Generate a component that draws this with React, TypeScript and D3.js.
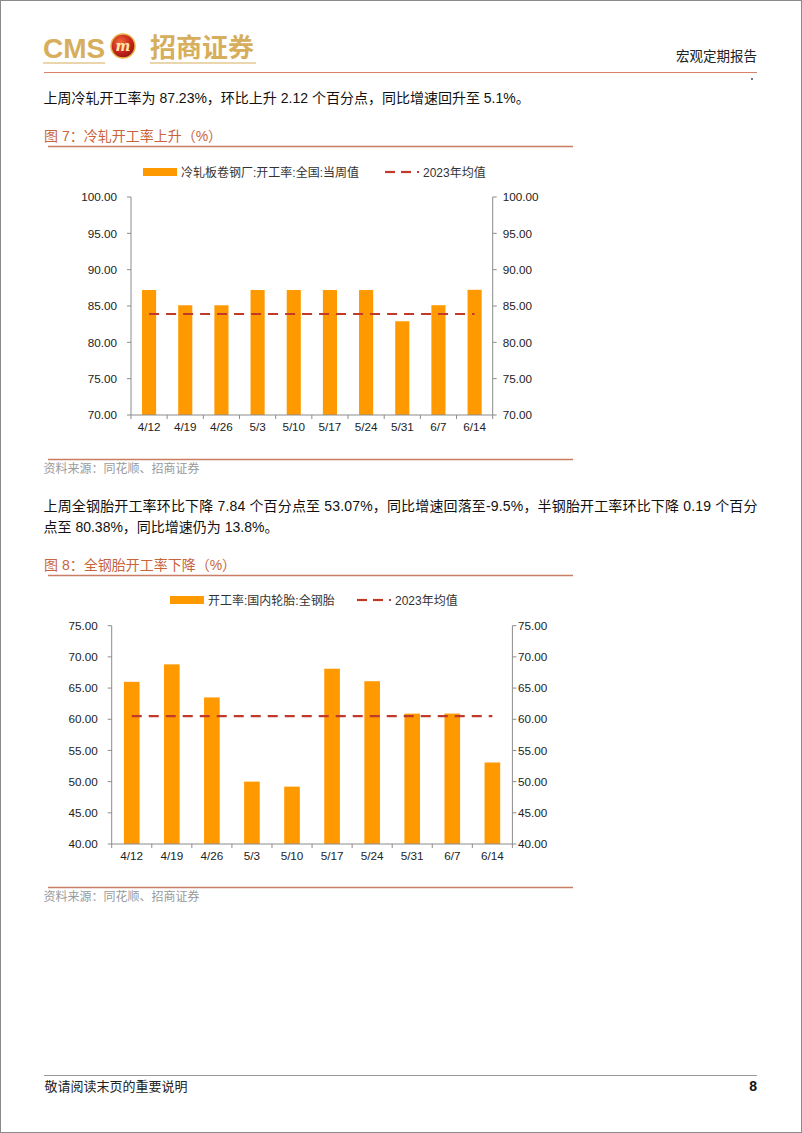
import React from 'react';
import * as d3 from 'd3';

const categories = ['4/12', '4/19', '4/26', '5/3', '5/10', '5/17', '5/24', '5/31', '6/7', '6/14'];
const coldRolledValues = [87.2, 85.1, 85.1, 87.2, 87.2, 87.2, 87.2, 82.9, 85.11, 87.23];
const coldRolledMean = 83.9;
const coldTicks = [70, 75, 80, 85, 90, 95, 100];
const tireValues = [66.0, 68.8, 63.5, 50.0, 49.2, 68.1, 66.1, 60.9, 60.91, 53.07];
const tireMean = 60.5;
const tireTicks = [40, 45, 50, 55, 60, 65, 70, 75];

const FONT = "'Liberation Sans', Arial, 'Noto Sans CJK SC', sans-serif";
const BAR = '#FF9900';
const MEAN = '#C0392B';
const AXIS = '#8c8c8c';

type ChartProps = {
  values: number[];
  mean: number;
  ticks: number[];
  left: number;
  right: number;
  top: number;
  bottom: number;
  legendY: number;
  seriesName: string;
  swatchX: number;
  dashX: number;
  rightGap: number;
};

function BarChart(p: ChartProps) {
  const x = d3.scaleBand<string>().domain(categories).range([p.left, p.right]).paddingInner(0.61).paddingOuter(0.305);
  const band = d3.scaleBand<string>().domain(categories).range([p.left, p.right]);
  const y = d3.scaleLinear().domain([p.ticks[0], p.ticks[p.ticks.length - 1]]).range([p.bottom, p.top]);
  const centers = categories.map((c) => (band(c) as number) + band.bandwidth() / 2);
  const boundaries = d3.range(categories.length + 1).map((i) => p.left + i * band.bandwidth());
  const meanPath = d3.line<number>().x((d) => d).y(() => y(p.mean))([centers[0], centers[centers.length - 1]]) as string;
  const fs = 11.7;
  return (
    <g fontFamily={FONT}>
      {/* legend */}
      <rect x={p.swatchX} y={p.legendY - 4} width={34} height={8} fill={BAR} />
      <text x={p.swatchX + 38} y={p.legendY + 4.5} fontSize={12} fill="#333">{p.seriesName}</text>
      <line x1={p.dashX} x2={p.dashX + 10} y1={p.legendY} y2={p.legendY} stroke={MEAN} strokeWidth={2.2} />
      <line x1={p.dashX + 16} x2={p.dashX + 26} y1={p.legendY} y2={p.legendY} stroke={MEAN} strokeWidth={2.2} />
      <line x1={p.dashX + 32} x2={p.dashX + 34} y1={p.legendY} y2={p.legendY} stroke={MEAN} strokeWidth={2.2} />
      <text x={p.dashX + 38} y={p.legendY + 4.5} fontSize={12} fill="#333">2023年均值</text>
      {/* bars */}
      {p.values.map((v, i) => (
        <rect key={i} x={x(categories[i])} y={y(v)} width={x.bandwidth()} height={y(p.ticks[0]) - y(v)} fill={BAR} />
      ))}
      {/* mean line */}
      <path d={meanPath} stroke={MEAN} strokeWidth={2.2} strokeDasharray="10,7" fill="none" />
      {/* axes */}
      <line x1={p.left} x2={p.left} y1={p.top} y2={p.bottom} stroke={AXIS} />
      <line x1={p.right} x2={p.right} y1={p.top} y2={p.bottom} stroke={AXIS} />
      <line x1={p.left} x2={p.right} y1={p.bottom} y2={p.bottom} stroke={AXIS} />
      {p.ticks.map((t) => (
        <g key={t}>
          <line x1={p.left - 4} x2={p.left} y1={y(t)} y2={y(t)} stroke={AXIS} />
          <line x1={p.right} x2={p.right + 4} y1={y(t)} y2={y(t)} stroke={AXIS} />
          <text x={p.left - 14} y={y(t) + 4.2} textAnchor="end" fontSize={fs} fill="#222">{d3.format('.2f')(t)}</text>
          <text x={p.right + p.rightGap} y={y(t) + 4.2} textAnchor="start" fontSize={fs} fill="#222">{d3.format('.2f')(t)}</text>
        </g>
      ))}
      {boundaries.map((b, i) => (
        <line key={i} x1={b} x2={b} y1={p.bottom} y2={p.bottom + 4} stroke={AXIS} />
      ))}
      {categories.map((c, i) => (
        <text key={c} x={centers[i]} y={p.bottom + 16} textAnchor="middle" fontSize={fs} fill="#222">{c}</text>
      ))}
    </g>
  );
}

export default function App() {
  return (
    <svg width={802} height={1133} style={{ position: 'absolute', left: 0, top: 0, background: '#fff' }} fontFamily={FONT}>
      <rect x={0.5} y={0.5} width={801} height={1132} fill="#fff" stroke="#8a8a8a" />
      <defs>
        <radialGradient id="logoGrad" cx="40%" cy="35%" r="70%">
          <stop offset="0%" stopColor="#f26b3a" />
          <stop offset="60%" stopColor="#c8261c" />
          <stop offset="100%" stopColor="#8c1410" />
        </radialGradient>
      </defs>
      {/* header */}
      <text x={43} y={58} fontSize={28} fontWeight="bold" fill="#D6AE5C" fontFamily="'Liberation Sans', Arial, sans-serif">CMS</text>
      <circle cx={123} cy={46} r={12} fill="url(#logoGrad)" stroke="#e8b14a" strokeWidth={1.5} />
      <text x={123} y={51} fontSize={14} fontWeight="bold" fontStyle="italic" textAnchor="middle" fill="#ffe9a8" fontFamily="'DejaVu Serif', serif">m</text>
      <text x={150} y={57} fontSize={26} fontWeight="bold" fill="#D6AE5C" fontFamily="'Noto Sans CJK SC', sans-serif">招商证券</text>
      <line x1={43} x2={105} y1={63} y2={63} stroke="#D6AE5C" strokeWidth={1.2} />
      <line x1={150} x2={256} y1={63} y2={63} stroke="#D6AE5C" strokeWidth={1.2} />
      <text x={757} y={61} fontSize={13.5} textAnchor="end" fill="#222">宏观定期报告</text>
      <line x1={44} x2={757} y1={72.5} y2={72.5} stroke="#D9826B" strokeWidth={1.2} />
      <circle cx={752} cy={79} r={0.9} fill="#333" />

      <text x={43.5} y={103} fontSize={14} fill="#111">上周冷轧开工率为 87.23%，环比上升 2.12 个百分点，同比增速回升至 5.1%。</text>

      {/* Figure 7 */}
      <text x={44} y={141} fontSize={14} fill="#C8643C">图 7：冷轧开工率上升（%）</text>
      <line x1={48} x2={573} y1={146.5} y2={146.5} stroke="#C97E63" strokeWidth={1.5} />
      <BarChart values={coldRolledValues} mean={coldRolledMean} ticks={coldTicks} left={131} right={492.7} top={197} bottom={415}
        legendY={172} seriesName="冷轧板卷钢厂:开工率:全国:当周值" swatchX={143} dashX={385} rightGap={10} />
      <line x1={48} x2={573} y1={459.5} y2={459.5} stroke="#C97E63" strokeWidth={1.5} />
      <text x={43.5} y={473} fontSize={12} fill="#9a9a9a">资料来源：同花顺、招商证券</text>

      <text x={43.5} y={511} fontSize={14} fill="#111" textLength={714} lengthAdjust="spacing">上周全钢胎开工率环比下降 7.84 个百分点至 53.07%，同比增速回落至-9.5%，半钢胎开工率环比下降 0.19 个百分</text>
      <text x={43.5} y={532} fontSize={14} fill="#111">点至 80.38%，同比增速仍为 13.8%。</text>

      {/* Figure 8 */}
      <text x={44} y={570} fontSize={14} fill="#C8643C">图 8：全钢胎开工率下降（%）</text>
      <line x1={48} x2={573} y1={575.5} y2={575.5} stroke="#C97E63" strokeWidth={1.5} />
      <BarChart values={tireValues} mean={tireMean} ticks={tireTicks} left={111.7} right={512.4} top={625.7} bottom={844}
        legendY={600} seriesName="开工率:国内轮胎:全钢胎" swatchX={170} dashX={357} rightGap={5.5} />
      <line x1={48} x2={573} y1={887.5} y2={887.5} stroke="#C97E63" strokeWidth={1.5} />
      <text x={43.5} y={901} fontSize={12} fill="#9a9a9a">资料来源：同花顺、招商证券</text>

      {/* footer */}
      <line x1={44} x2={757} y1={1075.5} y2={1075.5} stroke="#9a9a9a" strokeWidth={1} />
      <text x={44.5} y={1090.5} fontSize={13} fill="#222">敬请阅读末页的重要说明</text>
      <text x={757} y={1091} fontSize={14} fontWeight="bold" textAnchor="end" fill="#111">8</text>
    </svg>
  );
}
